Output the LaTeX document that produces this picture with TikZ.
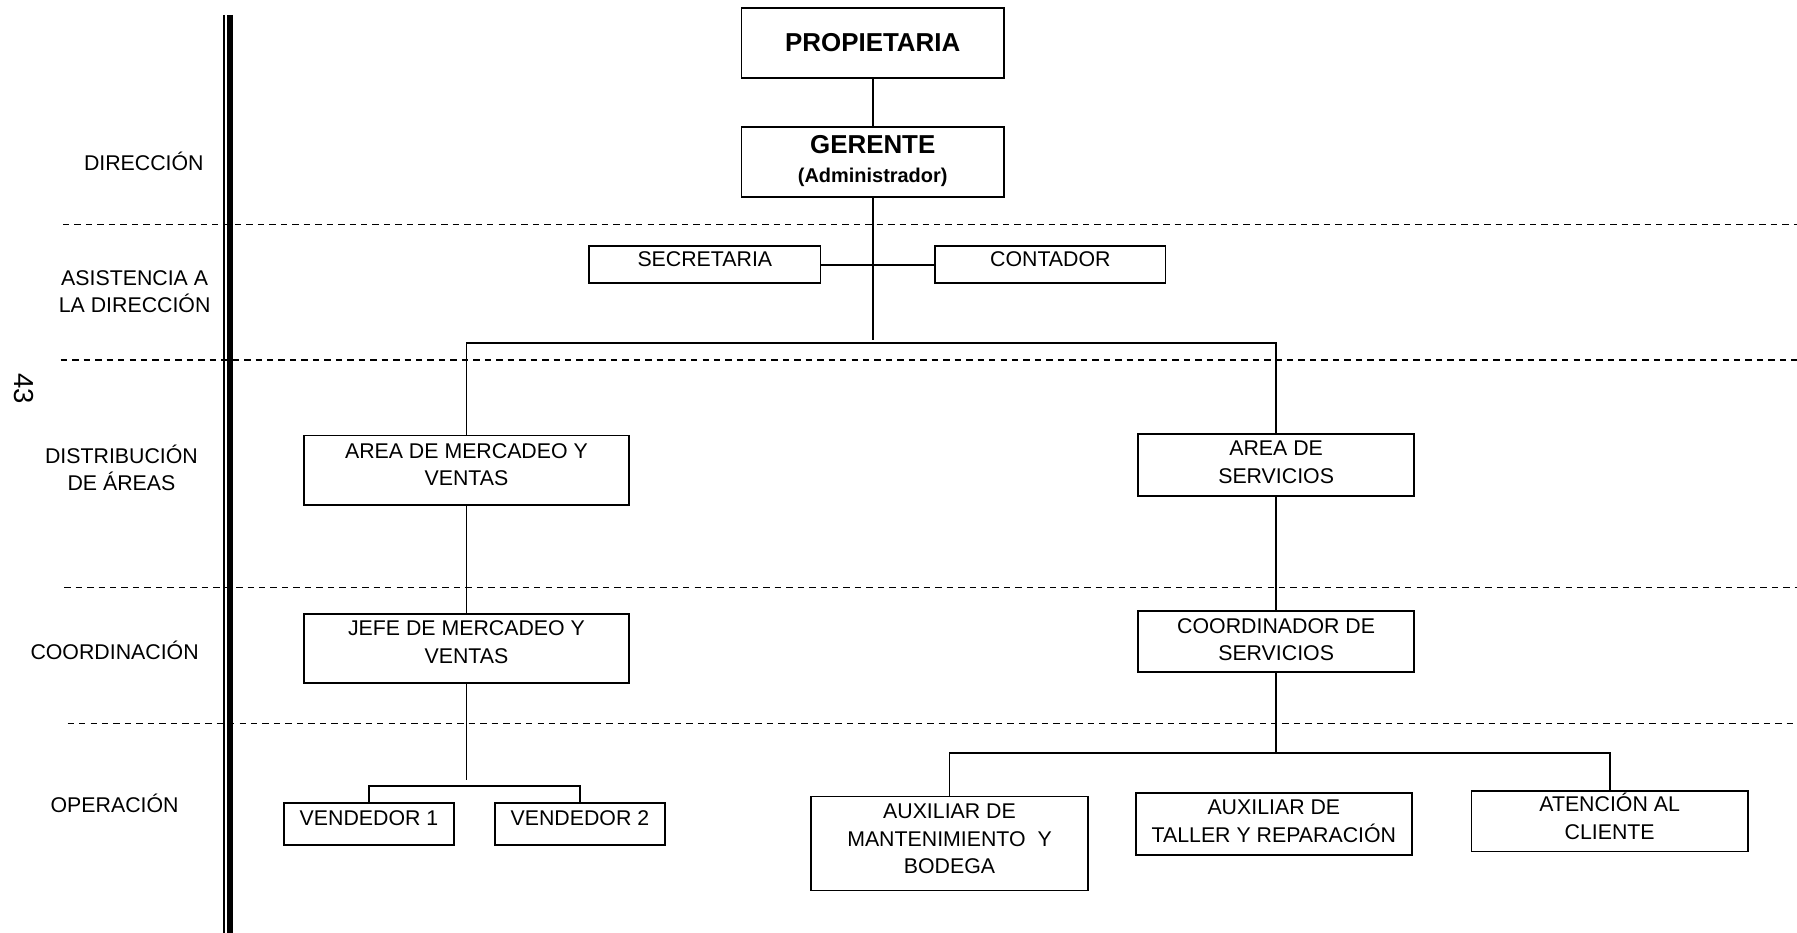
\documentclass[tikz,border=0pt]{standalone}
\usepackage{fontspec}
\setmainfont{Liberation Sans}
\newcommand{\bxt}[4]{\parbox[c][#2][t]{#1}{\fontsize{9.3pt}{12pt}\selectfont\centering\rule{0pt}{#3}#4\par}}
\begin{document}
\begin{tikzpicture}[x=0.5pt,y=-0.5pt,
  bx/.style={draw, line width=0.8pt, inner sep=0pt},
  con/.style={line width=0.8pt},
  dsh/.style={line width=0.57pt, dash pattern=on 2.8pt off 2.2pt},
  lbl/.style={inner sep=0pt, anchor=north, align=center, font=\fontsize{9.3pt}{12pt}\selectfont}]
\useasboundingbox (0,0) rectangle (1568,814);
\fill[white] (0,0) rectangle (1568,814);

% level separators
\draw[dsh] (55,196) -- (1568,196);
\draw[dsh] (53,314) -- (1568,314);
\draw[dsh] (56,512.5) -- (1568,512.5);
\draw[dsh] (59,631) -- (1568,631);

% double vertical rule
\draw[line width=0.87pt] (195.2,13) -- (195.2,814);
\draw[line width=2.5pt] (200.5,13) -- (200.5,814);

% page number
\node[rotate=-90, inner sep=0pt, font=\fontsize{12pt}{12pt}\selectfont] (pg) at (21,339) {43};

% level labels
\node[lbl] (l1) at (125.5,128.7) {\rule{0pt}{10pt}DIRECCIÓN};
\node[lbl] (l2) at (117.5,228.7) {\rule{0pt}{10pt}ASISTENCIA A\\LA DIRECCIÓN};
\node[lbl] (l3) at (106,383.7) {\rule{0pt}{10pt}DISTRIBUCIÓN\\DE ÁREAS};
\node[lbl] (l4) at (100,554.7) {\rule{0pt}{10pt}COORDINACIÓN};
\node[lbl] (l5) at (100,688.7) {\rule{0pt}{10pt}OPERACIÓN};

% boxes
\node[bx, minimum width=114.5pt, minimum height=30.5pt, font=\fontsize{11.3pt}{13pt}\selectfont\bfseries] (prop) at (761.5,37.5) {PROPIETARIA};
\node[bx] (ger) at (761.5,141.5) {\parbox[c][30.5pt][t]{114.5pt}{\centering\fontsize{8.7pt}{12.6pt}\selectfont\bfseries\rule{0pt}{11.6pt}{\fontsize{11.3pt}{12.6pt}\selectfont GERENTE}\\(Administrador)\par}};
\node[bx] (sec) at (615,231) {\bxt{101pt}{16pt}{8.85pt}{SECRETARIA}};
\node[bx] (cont) at (916.5,231) {\bxt{100.5pt}{16pt}{8.85pt}{CONTADOR}};
\node[bx] (amv) at (407,410.5) {\bxt{142pt}{30.5pt}{9.85pt}{AREA DE MERCADEO Y\\VENTAS}};
\node[bx] (as) at (1113.5,406) {\bxt{120.5pt}{27pt}{9.35pt}{AREA DE\\SERVICIOS}};
\node[bx] (jefe) at (407,566) {\bxt{142pt}{30pt}{9.35pt}{JEFE DE MERCADEO Y\\VENTAS}};
\node[bx] (coord) at (1113.5,559.5) {\bxt{120.5pt}{26.5pt}{9.85pt}{COORDINADOR DE\\SERVICIOS}};
\node[bx] (v1) at (322,719) {\bxt{74pt}{18pt}{9.85pt}{VENDEDOR 1}};
\node[bx] (v2) at (506,719) {\bxt{74pt}{18pt}{9.85pt}{VENDEDOR 2}};
\node[bx] (mant) at (828.5,736) {\bxt{120.5pt}{41pt}{9.6pt}{AUXILIAR DE\\MANTENIMIENTO~ Y\\BODEGA}};
\node[bx] (tall) at (1111.5,719) {\bxt{120.5pt}{27pt}{9.35pt}{AUXILIAR DE\\TALLER Y REPARACIÓN}};
\node[bx] (aten) at (1404.5,716.5) {\bxt{120.5pt}{26.5pt}{9.15pt}{ATENCIÓN AL\\CLIENTE}};

% connector helper points
\coordinate (gEnd) at (761.5,296.5);
\coordinate (bus1) at (761.5,299);
\coordinate (jEnd) at (407,681);
\coordinate (bus2) at (414,686);
\coordinate (bus3) at (1113.5,657);

% connectors
\draw[con] (prop.south) -- (ger.north);
\draw[con] (ger.south) -- (gEnd);
\draw[con] (sec.east) -- (cont.west);
\draw[con] (amv.north) |- (bus1) -| (as.north);
\draw[con] (amv.south) -- (jefe.north);
\draw[con] (as.south) -- (coord.north);
\draw[con] (jefe.south) -- (jEnd);
\draw[con] (v1.north) |- (bus2) -| (v2.north);
\draw[con] (coord.south) -- (bus3);
\draw[con] (mant.north) |- (bus3) -| (aten.north);
\end{tikzpicture}
\end{document}
